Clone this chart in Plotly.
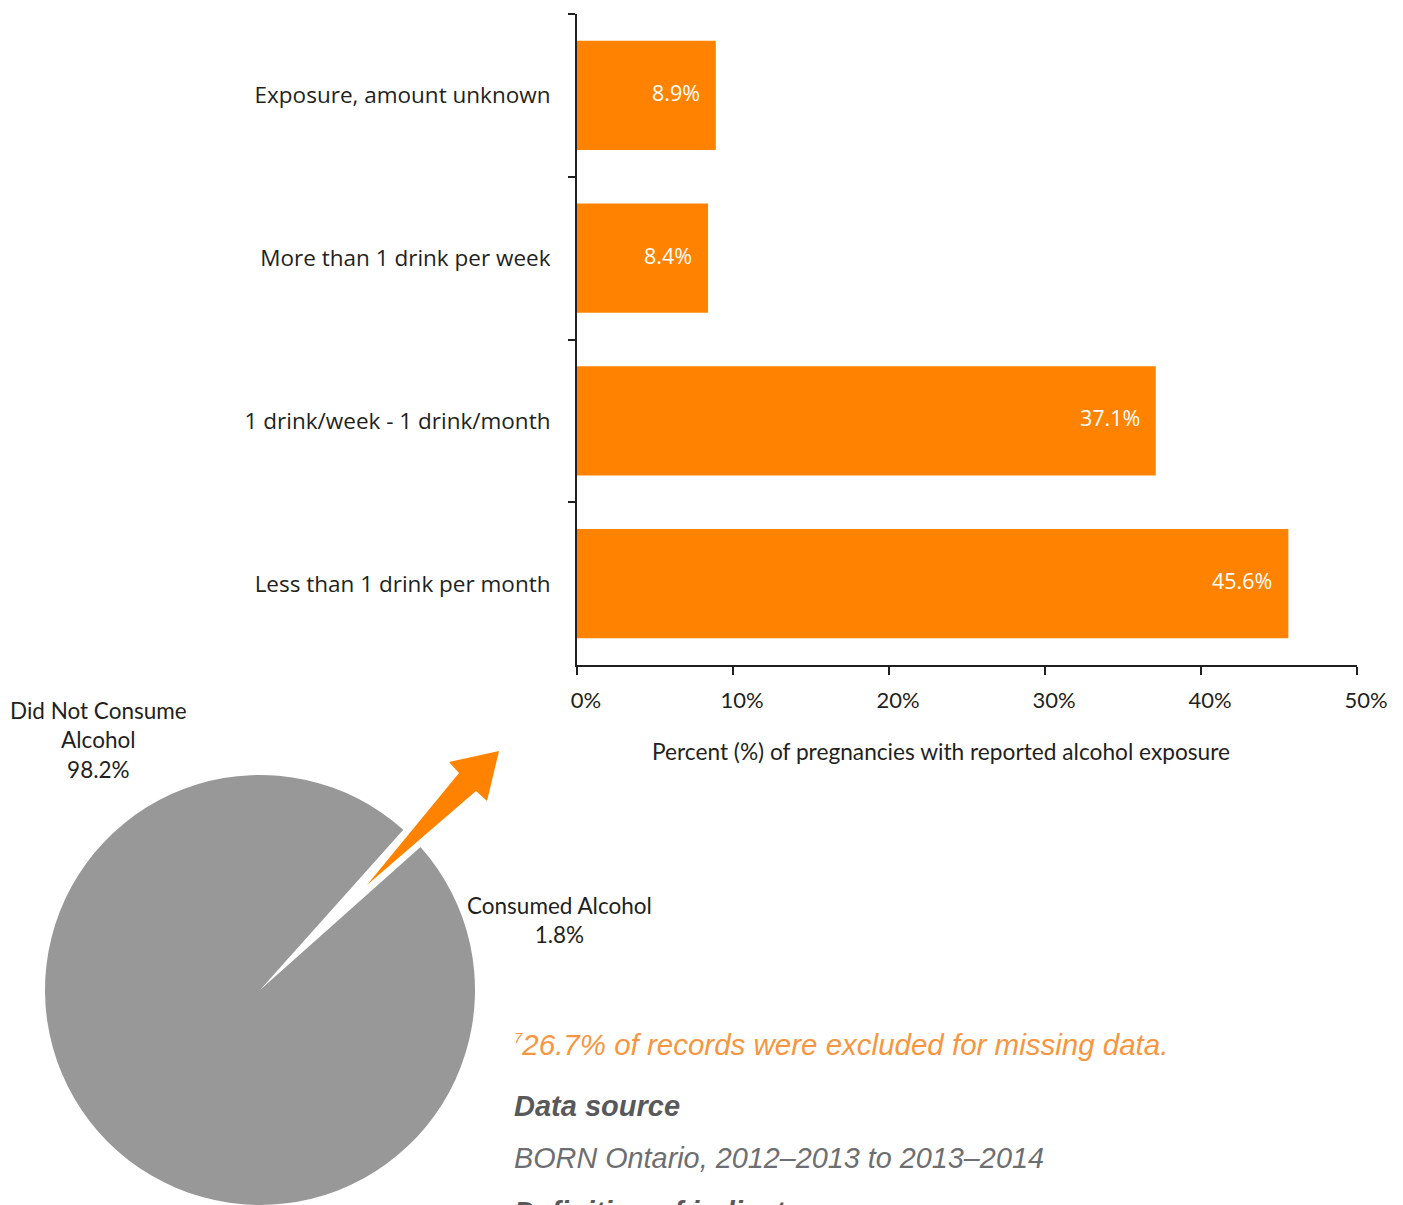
import plotly.graph_objects as go

# Alcohol exposure among pregnancies that reported consuming alcohol
categories = [
    "Exposure, amount unknown",
    "More than 1 drink per week",
    "1 drink/week - 1 drink/month",
    "Less than 1 drink per month",
]
exposure_pct = [8.9, 8.4, 37.1, 45.6]

# Share of pregnancies that did / did not consume alcohol
pie_labels = ["Consumed Alcohol", "Did Not Consume Alcohol"]
pie_values = [1.8, 98.2]

x_ticks = [0, 10, 20, 30, 40, 50]

W, H = 1403, 1205
ORANGE = "#FF8300"
INK = "#231F20"
SEGOE = "Open Sans, Noto Sans, sans-serif"
MYRIAD = "Lato, Noto Sans, sans-serif"
HELV = "Liberation Sans, Arial, sans-serif"


def px(x):
    return x / W


def py(y):
    return 1 - y / H


fig = go.Figure()

fig.add_trace(go.Bar(
    x=exposure_pct,
    y=categories,
    orientation="h",
    marker=dict(color=ORANGE, line=dict(width=0)),
    hoverinfo="skip",
    showlegend=False,
))

fig.add_trace(go.Pie(
    labels=pie_labels,
    values=pie_values,
    sort=False,
    direction="clockwise",
    rotation=41.8,
    marker=dict(colors=["#FFFFFF", "#989898"], line=dict(width=0)),
    textinfo="none",
    hoverinfo="skip",
    showlegend=False,
    automargin=False,
    domain=dict(x=[px(45), px(475)], y=[0, py(775)]),
))

annotations = []

# value labels inside the bars
for cat, v in zip(categories, exposure_pct):
    annotations.append(dict(
        x=v, y=cat, xref="x", yref="y",
        text=f"{v}%", showarrow=False,
        xanchor="right", yanchor="middle", xshift=-14, yshift=3,
        font=dict(family=SEGOE, size=21.5, color="white"),
    ))

# x axis title
annotations.append(dict(
    x=px(941), y=py(751), xref="paper", yref="paper",
    text="Percent (%) of pregnancies with reported alcohol exposure",
    showarrow=False, xanchor="center", yanchor="middle",
    font=dict(family=MYRIAD, size=22.7, color=INK),
))

# pie labels
annotations.append(dict(
    x=px(99), y=py(740), xref="paper", yref="paper",
    text=f"Did Not Consume<br>Alcohol<br>{pie_values[1]}%",
    showarrow=False, xanchor="center", yanchor="middle", align="center",
    font=dict(family=MYRIAD, size=22.5, color=INK),
))
annotations.append(dict(
    x=px(559), y=py(920), xref="paper", yref="paper",
    text=f"Consumed Alcohol<br>{pie_values[0]}%",
    showarrow=False, xanchor="center", yanchor="middle", align="center",
    font=dict(family=MYRIAD, size=22.5, color=INK),
))

# notes below the chart
annotations.append(dict(
    x=px(512), y=py(1044), xref="paper", yref="paper",
    text='<sup><span style="font-size:15px">7</span></sup>26.7% of records were excluded for missing data.',
    showarrow=False, xanchor="left", yanchor="middle",
    font=dict(family=HELV, size=29.5, color="#F7963F", style="italic"),
))
annotations.append(dict(
    x=px(512), y=py(1106), xref="paper", yref="paper",
    text="<b>Data source</b>",
    showarrow=False, xanchor="left", yanchor="middle",
    font=dict(family=HELV, size=29, color="#58595B", style="italic"),
))
annotations.append(dict(
    x=px(512), y=py(1158), xref="paper", yref="paper",
    text="BORN Ontario, 2012–2013 to 2013–2014",
    showarrow=False, xanchor="left", yanchor="middle",
    font=dict(family=HELV, size=28.8, color="#6D6E71", style="italic"),
))
annotations.append(dict(
    x=px(512), y=py(1212), xref="paper", yref="paper",
    text="<b>Definition of indicator</b>",
    showarrow=False, xanchor="left", yanchor="middle",
    font=dict(family=HELV, size=29, color="#58595B", style="italic"),
))

# arrow pointing from the pie gap to the bar chart
arrow_pts = [(367, 885), (459, 773), (449, 762), (499, 751), (487, 801), (476, 791)]
path = "M " + " L ".join(f"{px(x):.5f},{py(y):.5f}" for x, y in arrow_pts) + " Z"
shapes = [dict(type="path", xref="paper", yref="paper", path=path,
               fillcolor=ORANGE, line=dict(width=0), layer="above")]

fig.update_layout(
    width=W, height=H, autosize=False,
    margin=dict(l=0, r=0, t=0, b=0, autoexpand=False),
    paper_bgcolor="white", plot_bgcolor="white",
    bargap=0.33,
    xaxis=dict(
        domain=[px(577), px(1357)],
        automargin=False,
        range=[0, 50], tickvals=x_ticks, ticktext=[f"{t}%" for t in x_ticks],
        showgrid=False, zeroline=False,
        showline=True, linecolor=INK, linewidth=2,
        ticks="outside", ticklen=8, tickwidth=1.5, tickcolor=INK,
        ticklabelshift=9, ticklabelstandoff=7,
        tickfont=dict(family=MYRIAD, size=22, color=INK),
        fixedrange=True,
    ),
    yaxis=dict(
        domain=[py(665), py(14)],
        automargin=False,
        categoryorder="array", categoryarray=categories,
        range=[3.5, -0.5],
        showgrid=False, zeroline=False,
        showline=True, linecolor=INK, linewidth=2,
        ticks="outside", tickson="boundaries", ticklen=7, tickwidth=1.5, tickcolor=INK,
        ticklabelstandoff=20,
        tickfont=dict(family=SEGOE, size=22.5, color=INK),
        fixedrange=True,
    ),
    annotations=annotations,
    shapes=shapes,
)

fig.write_html("out.html", config={"responsive": False})
